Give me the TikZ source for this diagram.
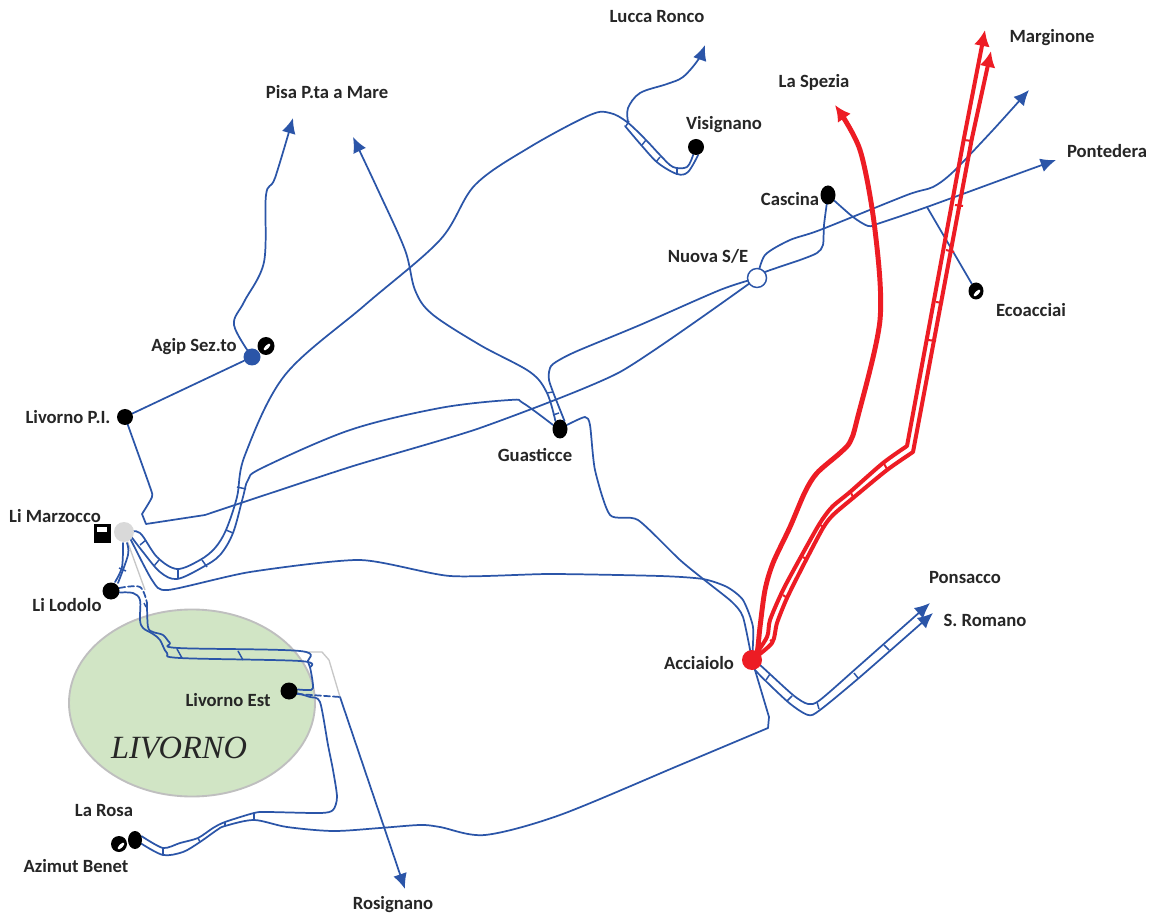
\documentclass[tikz,border=0pt]{standalone}
\usepackage{fontspec}
\setmainfont{Carlito}
\newfontfamily\serifit{Liberation Serif}
\usetikzlibrary{arrows.meta,shapes.geometric}
\definecolor{railblue}{HTML}{2B55A8}
\definecolor{railred}{HTML}{ED1C24}
\definecolor{txt}{HTML}{262626}
\definecolor{cityfill}{HTML}{D1E5C5}
\pgfdeclarelayer{bg}
\pgfdeclarelayer{bgg}
\pgfsetlayers{bgg,bg,main}
\tikzset{
  lbl/.style={font=\bfseries\fontsize{14}{16}\selectfont,text=txt,inner sep=0pt},
  st/.style={circle,fill=black,inner sep=0pt,minimum size=17*0.75pt},
  ov/.style={ellipse,fill=black,inner sep=0pt,minimum width=15*0.75pt,minimum height=19*0.75pt},
  bl/.style={draw=railblue,line width=1.3pt,line cap=round,line join=round},
  rd/.style={draw=railred,line width=3.7pt,line join=round},
  rd2/.style={draw=railred,line width=3pt,line join=round},
  rung/.style={draw=railblue,line width=1.1pt},
  rrung/.style={draw=railred,line width=1.5pt},
  dsh/.style={dash pattern=on 4.5pt off 2.2pt},
  btip/.style={-{Latex[length=11.5pt,width=10.5pt]}},
  rtip/.style={-{Latex[length=12pt,width=12pt]}},
  sm/.style={smooth,tension=0.55},
  sliver/.style={fill=white,draw=none,rotate=45,ellipse,inner sep=0pt,minimum width=9*0.75pt,minimum height=3.5*0.75pt}
}
\begin{document}
\begin{tikzpicture}[x=0.75pt,y=-0.75pt]
\useasboundingbox (0,0) rectangle (1156,919);
% stations
\node[st,minimum size=16*0.75pt] (visi) at (696,147) {};
\node[ov] (casc) at (828,195) {};
\node[ov,minimum height=17*0.75pt] (ecoa) at (976,291) {};
\node[sliver] at (977,293) {};
\node[circle,fill=railblue,inner sep=0pt,minimum size=17*0.75pt] (agip) at (252,357) {};
\node[ov,minimum width=17*0.75pt,minimum height=18*0.75pt] (agip2) at (266,346) {};
\node[sliver] at (267,347) {};
\node[st,minimum size=16*0.75pt] (lpi) at (125,417) {};
\node[circle,fill=black!15,inner sep=0pt,minimum size=20*0.75pt] (lmar) at (124,532) {};
\node[fill=black,inner sep=0pt,minimum width=17*0.75pt,minimum height=19*0.75pt] (lmsq) at (102,533) {};
\node[fill=white,inner sep=0pt,minimum width=10*0.75pt,minimum height=5*0.75pt] at (102,529) {};
\node[st] (lodo) at (111,591) {};
\node[st] (lest) at (289,691) {};
\node[ov] (guas) at (560,429) {};
\node[ov,minimum width=14*0.75pt,minimum height=18*0.75pt] (laro) at (135,840) {};
\node[st,minimum size=16*0.75pt] (azim) at (119,844) {};
\node[sliver] at (121,846) {};
\node[circle,fill=railred,inner sep=0pt,minimum size=20*0.75pt] (acci) at (752,660) {};
\node[circle,draw=railblue,fill=white,line width=1.1pt,inner sep=0pt,minimum size=19*0.75pt] (nuov) at (757,278) {};
% free ends
\coordinate (pisa1) at (293,118);
\coordinate (pisa2) at (353,137);
\coordinate (lucc) at (705,45);
\coordinate (marg3) at (1029,90);
\coordinate (pont) at (1056,160);
\coordinate (pons) at (930,603);
\coordinate (srom) at (933,613);
\coordinate (rosi) at (405,889);
\coordinate (spez) at (835,105);
\coordinate (marg1) at (985,30);
\coordinate (marg2) at (991,51);
\coordinate (jeco) at (927,207);
\coordinate (jdash) at (340,697);
\coordinate (lmdot) at (127,532);
% labels
\node[lbl] at (657,17) {Lucca Ronco};
\node[lbl] at (1052,38) {Marginone};
\node[lbl] at (814,82) {La Spezia};
\node[lbl] at (327,92) {Pisa P.ta a Mare};
\node[lbl] at (724,125) {Visignano};
\node[lbl] at (1107,151) {Pontedera};
\node[lbl] at (790,199) {Cascina};
\node[lbl] at (708,256) {Nuova S/E};
\node[lbl] at (1031,310) {Ecoacciai};
\node[lbl] at (194,347) {Agip Sez.to};
\node[lbl] at (68,417) {Livorno P.I.};
\node[lbl] at (535,455) {Guasticce};
\node[lbl] at (55,516) {Li Marzocco};
\node[lbl] at (67,605) {Li Lodolo};
\node[lbl] at (965,578) {Ponsacco};
\node[lbl] at (985,620) {S. Romano};
\node[lbl] at (699,663) {Acciaiolo};
\node[lbl] at (228,700) {Livorno Est};
\node[lbl] at (104,811) {La Rosa};
\node[lbl] at (76,866) {Azimut Benet};
\node[lbl] at (393,905) {Rosignano};
\begin{pgfonlayer}{bgg}
\fill[white] (0,0) rectangle (1156,919);
\node[ellipse,fill=cityfill,draw=black!25,line width=1.4pt,inner sep=0pt,minimum width=246*0.75pt,minimum height=187*0.75pt] (city) at (192,703) {};
\node[font=\serifit\itshape\fontsize{24.3}{28}\selectfont,text=txt,inner sep=0pt] (cityl) at (179,748) {LIVORNO};
\draw[draw=black!22,line width=1pt,line join=round] (lmar) -- (145,590);
\draw[draw=black!22,line width=1pt,line join=round] (305,652) -- (322,652) -- (329,660) -- (jdash);
\end{pgfonlayer}
\begin{pgfonlayer}{bg}
% Pisa lines
\draw[bl] (lpi) -- (agip);
\draw[bl,btip] plot[sm] coordinates {(agip) (234,325) (244,302) (264,262) (266,195) (275,178) (pisa1)};
\draw[bl,btip] plot[sm] coordinates {(guas.120) (547,393) (530,372) (480,345) (432,314) (415,290) (405,250) (378,190) (pisa2)};
% Livorno P.I. -> Nuova S/E
\draw[bl] plot[smooth,tension=0.35] coordinates {(lpi) (150,487) (152,497) (142,514)} -- (146,524) -- plot[smooth,tension=0.35] coordinates {(205,515) (350,467) (480,428) (620,372) (nuov)};
% Guasticce -> Nuova S/E
\draw[bl] plot[smooth,tension=0.45] coordinates {(guas.60) (553,392) (549,380) (549,372) (553,364) (575,352) (640,325) (720,290) (nuov)};
% Li Marzocco -> Visignano
\draw[bl] plot[sm] coordinates {(lmdot) (140,533) (157,557) (177,569) (200,560) (215,548) (226,530) (237,497) (245,455) (285,375) (365,305) (440,240) (475,185) (530,147) (590,115) (610,113) (627,122) (646,140) (660,155) (673,167) (687,167) (visi.250)};
% Li Marzocco -> Guasticce
\draw[bl] plot[sm] coordinates {(130,535) (143,552) (160,572) (177,579) (203,567) (220,555) (233,533) (243,497) (248,480) (262,468) (350,430) (440,408) (510,400) (523,403) (guas.150)};
% Visignano lower rail
\draw[bl] plot[sm] coordinates {(625,126) (642,146) (658,163) (677,174) (688,172) (visi.285)};
% Lucca Ronco
\draw[bl,btip] plot[sm] coordinates {(628,122) (628,108) (640,93) (667,84) (683,77) (698,60) (lucc)};
% Li Marzocco -> Acciaiolo
\draw[bl] plot[smooth,tension=0.4] coordinates {(lmdot) (152,580) (168,590) (250,572) (360,560) (450,576) (550,574) (660,576) (703,579) (727,587) (743,600) (753,627) (acci)};
% Guasticce -> Acciaiolo
\draw[bl] plot[smooth,tension=0.4] coordinates {(guas.30) (585,417) (590,425) (595,470) (610,515) (638,520) (680,560) (707,582) (732,602) (743,617) (acci)};
% Li Marzocco -> Li Lodolo
\draw[bl] plot[sm] coordinates {(123,543) (122,567) (115,582)};
\draw[bl] plot[sm] coordinates {(127,543) (128,555) (118,583)};
\draw[rung] (119,568) -- (126,571);
% Li Lodolo -> Livorno Est
\draw[bl,dsh] plot[sm] coordinates {(lodo.20) (140,587) (147,603)};
\draw[bl] plot[sm] coordinates {(147,603) (148,627) (153,632) (163,635) (170,643) (178,648) (300,651) (308,662) (311,672) (313,688) (308,690) (lest.10)};
\draw[bl] plot[sm] coordinates {(lodo.-10) (133,593) (140,600) (140,620) (143,628) (153,634) (160,640) (167,653) (180,658) (300,661) (310,667)};
\draw[rung] (177,649) -- (182,658);
\draw[rung] (238,651) -- (243,660);
\draw[rung] (144,603) -- (146,607);
% Livorno Est dashed -> Rosignano
\draw[bl,dsh] (lest.-20) -- (jdash);
\draw[bl,btip] (jdash) -- (rosi);
% Livorno Est -> La Rosa
\draw[bl] plot[smooth,tension=0.45] coordinates {(lest.-15) (310,697) (320,702) (328,745) (333,770) (337,797) (333,810) (320,813) (267,812) (254,813) (225,822) (213,828) (198,838) (180,843) (163,848) (laro.30)};
% La Rosa -> Acciaiolo
\draw[bl] plot[smooth,tension=0.5] coordinates {(laro.-30) (163,855) (183,852) (200,842) (217,830) (225,826) (254,820) (287,827) (333,831) (380,828) (420,825) (440,827) (485,835) (560,815) (680,765) (768,728)} -- (769,717) -- (acci);
\draw[rung] (163,848) -- (163,855);
\draw[rung] (198,838) -- (200,842);
\draw[rung] (225,822) -- (225,826);
\draw[rung] (254,813) -- (254,820);
% Acciaiolo -> Ponsacco, S. Romano
\draw[bl,btip] plot[smooth,tension=0.45] coordinates {(acci) (760,665) (793,695) (808,704) (820,700) (860,665) (pons)};
\draw[bl,btip] plot[smooth,tension=0.45] coordinates {(acci) (755,670) (788,702) (808,715) (820,710) (860,677) (srom)};
\draw[rung] (770,674) -- (766,680);
\draw[rung] (792,696) -- (787,701);
\draw[rung] (817,702) -- (819,709);
\draw[rung] (854,673) -- (858,678);
\draw[rung] (884,645) -- (889,650);
% Nuova S/E and Cascina
\draw[bl] plot[smooth,tension=0.45] coordinates {(nuov) (765,272) (800,260) (817,253) (823,245) (824,225) (casc)};
\draw[bl,btip] plot[smooth,tension=0.45] coordinates {(nuov) (765,255) (790,240) (820,230) (907,195) (933,187) (953,172) (993,130) (marg3)};
\draw[bl,btip] plot[smooth,tension=0.45] coordinates {(casc) (853,217) (868,226) (877,224) (jeco) (1020,173) (pont)};
\draw[bl] (jeco) -- (ecoa);
% Guasticce rungs
\draw[rung] (547,393) -- (553,392);
\draw[rung] (553,415) -- (559,413);
% U rungs
\draw[rung] (140,545) -- (146,540);
\draw[rung] (154,566) -- (159,560);
\draw[rung] (178,569) -- (178,579);
\draw[rung] (202,560) -- (207,567);
\draw[rung] (226,530) -- (233,533);
\draw[rung] (237,487) -- (246,489);
% Visignano rungs
\draw[rung] (629,121) -- (626,126);
\draw[rung] (646,140) -- (642,145);
\draw[rung] (660,157) -- (656,162);
\draw[rung] (677,167) -- (677,175);
% red lines
\draw[rd,rtip] plot[smooth,tension=0.5] coordinates {(acci) (757,653) (760,627) (765,590) (773,563) (790,527) (805,492) (817,473) (840,453) (850,442) (857,420) (880,320) (875,230) (860,150) (spez)};
\draw[rd2,rtip] plot[smooth,tension=0.45] coordinates {(acci) (767,637) (770,620) (783,590) (803,553) (820,523) (832,507) (850,492) (883,463) (907,446)} -- (964,138) -- (marg1);
\draw[rd2,rtip] plot[smooth,tension=0.45] coordinates {(acci) (772,643) (777,623) (787,598) (805,562) (823,528) (833,515) (853,498) (887,470) (913,452)} -- (972,138) -- (marg2);
\draw[rrung] (883,462) -- (887,469);
\draw[rrung] (850,491) -- (853,497);
\draw[rrung] (820,525) -- (824,527);
\draw[rrung] (803,557) -- (807,560);
\draw[rrung] (783,595) -- (787,598);
\draw[rrung] (770,640) -- (773,642);
\draw[rrung] (928,340) -- (936,341);
\draw[rrung] (936,302) -- (943,303);
\draw[rrung] (946,250) -- (954,252);
\draw[rrung] (955,205) -- (963,206);
\draw[rrung] (964,140) -- (972,141);
\end{pgfonlayer}
\end{tikzpicture}
\end{document}
